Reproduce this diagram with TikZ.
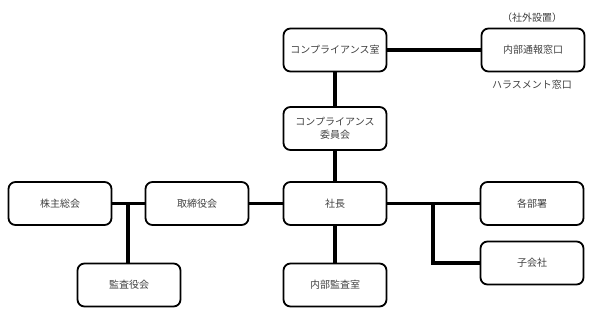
\documentclass[tikz,border=0pt]{standalone}
\usepackage{fontspec}
\setmainfont{Noto Sans CJK JP}
\begin{document}
\begin{tikzpicture}[x=1pt,y=-1pt,
  box/.style={draw=black,line width=1.8pt,rounded corners=7pt,minimum width=103pt,minimum height=43pt,align=center,font=\fontsize{10}{13}\selectfont,text=black!75,inner sep=1pt},
  link/.style={line width=3.6pt,draw=black},
  lbl/.style={font=\fontsize{10}{13}\selectfont,text=black!75,inner sep=0pt}]
\useasboundingbox (0,0) rectangle (602,316);
\node[box] (cr) at (335,50) {コンプライアンス室};
\node[box] (nb) at (533,50) {内部通報窓口};
\node[lbl] (sg) at (532,18) {（社外設置）};
\node[lbl] (hr) at (532,85) {ハラスメント窓口};
\node[box] (cc) at (335,128.5) {コンプライアンス\\委員会};
\node[box] (kk) at (60,203.5) {株主総会};
\node[box] (tr) at (197,203.5) {取締役会};
\node[box] (sc) at (335,203.5) {社長};
\node[box] (ka) at (129,285) {監査役会};
\node[box] (na) at (335,285) {内部監査室};
\node[box] (kb) at (532,203.5) {各部署};
\node[box] (ko) at (532,263) {子会社};
\coordinate (j1) at (128,203.5);
\coordinate (j2) at (433,203.5);
\draw[link] (cr) -- (nb);
\draw[link] (cr) -- (cc);
\draw[link] (cc) -- (sc);
\draw[link] (kk) -- (tr);
\draw[link] (tr) -- (sc);
\draw[link] (sc) -- (na);
\draw[link] (sc) -- (kb);
\draw[link] (j1) -- (j1 |- ka.north);
\draw[link] (j2) |- (ko.west);
\end{tikzpicture}
\end{document}
